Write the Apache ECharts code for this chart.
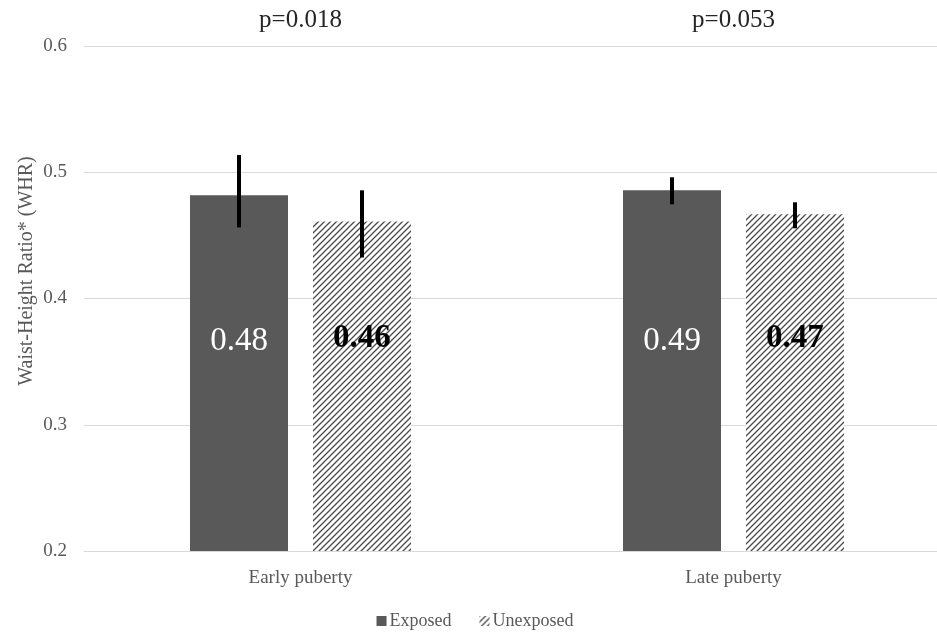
<!DOCTYPE html>
<html>
<head>
<meta charset="utf-8">
<script src="https://cdn.jsdelivr.net/npm/echarts@6/dist/echarts.min.js"></script>
<style>html,body{margin:0;padding:0;background:#fff;overflow:hidden;width:937px;height:633px}#c{width:950px;height:633px}</style>
</head>
<body>
<div id="c"></div>
<script>
const categories = ["Early puberty", "Late puberty"];
const pLabels = ["p=0.018", "p=0.053"];
const exposed = [0.4817, 0.4857];
const unexposed = [0.461, 0.4667];
const exposedLow = [0.4563, 0.4746];
const exposedHigh = [0.5137, 0.496];
const unexposedLow = [0.4325, 0.4556];
const unexposedHigh = [0.4857, 0.4762];
const yTicks = [0.2, 0.3, 0.4, 0.5, 0.6];

const FONT = '"Liberation Serif", "Times New Roman", serif';
const BAR_W = 98, GAP = 25;
const OFFSET = (BAR_W + GAP) / 2;

function makeHatch() {
  const c = document.createElement('canvas');
  c.width = 6; c.height = 6;
  const ctx = c.getContext('2d');
  ctx.fillStyle = '#ffffff';
  ctx.fillRect(0, 0, 6, 6);
  ctx.strokeStyle = '#4a4a4a';
  ctx.lineWidth = 1.3;
  ctx.beginPath();
  ctx.moveTo(-1, 7); ctx.lineTo(7, -1);
  ctx.moveTo(-4, 4); ctx.lineTo(4, -4);
  ctx.moveTo(2, 10); ctx.lineTo(10, 2);
  ctx.stroke();
  return c;
}
const hatch = { image: makeHatch(), repeat: 'repeat' };

function errData(lo, hi) {
  return categories.map((c, i) => [i, lo[i], hi[i]]);
}
function errRender(off) {
  return function (params, api) {
    const x = api.coord([api.value(0), api.value(1)])[0] + off;
    const y1 = api.coord([api.value(0), api.value(1)])[1];
    const y2 = api.coord([api.value(0), api.value(2)])[1];
    return {
      type: 'line',
      shape: { x1: x, y1: y1, x2: x, y2: y2 },
      style: { stroke: '#000', lineWidth: 4 }
    };
  };
}

const chart = echarts.init(document.getElementById('c'), null, { renderer: 'canvas', width: 950, height: 633 });
chart.setOption({
  animation: false,
  backgroundColor: '#fff',
  textStyle: { fontFamily: FONT },
  grid: { left: 84, top: 46, right: 0, bottom: 82, containLabel: false },
  legend: {
    data: ['Exposed', 'Unexposed'],
    bottom: -2,
    left: 'center',
    itemWidth: 10, itemHeight: 10, itemGap: 28,
    icon: 'rect',
    textStyle: { fontFamily: FONT, fontSize: 18, color: '#595959', padding: [0, 0, 0, -2] }
  },
  xAxis: [{
    type: 'category',
    data: categories,
    axisLine: { lineStyle: { color: '#d9d9d9', width: 1 } },
    axisTick: { show: false },
    axisLabel: { fontFamily: FONT, fontSize: 19, color: '#595959', margin: 18 }
  }, {
    type: 'category',
    data: pLabels,
    position: 'top',
    axisLine: { show: false },
    axisTick: { show: false },
    axisLabel: { fontFamily: FONT, fontSize: 25, color: '#262626', margin: 13 }
  }],
  yAxis: {
    type: 'value',
    min: yTicks[0], max: yTicks[yTicks.length - 1], interval: 0.1,
    name: 'Waist-Height Ratio* (WHR)',
    nameLocation: 'middle',
    nameGap: 47,
    nameMoveOverlap: false,
    nameTextStyle: { fontFamily: FONT, fontSize: 20, color: '#595959', padding: [0, 0, 0, 55] },
    axisLine: { show: false },
    axisTick: { show: false },
    splitLine: { lineStyle: { color: '#d9d9d9', width: 1 } },
    axisLabel: { fontFamily: FONT, fontSize: 19, color: '#595959', margin: 17,
      formatter: v => v.toFixed(1) }
  },
  series: [{
    name: 'Exposed',
    type: 'bar',
    data: exposed,
    barWidth: BAR_W,
    barGap: (GAP / BAR_W * 100).toFixed(1) + '%',
    itemStyle: { color: '#595959' },
    label: {
      show: true, position: 'insideBottom', distance: 193,
      formatter: p => p.value.toFixed(2),
      fontFamily: FONT, fontSize: 33, color: '#ffffff'
    }
  }, {
    name: 'Unexposed',
    type: 'bar',
    data: unexposed,
    barWidth: BAR_W,
    itemStyle: { color: hatch },
    label: {
      show: true, position: 'insideBottom', distance: 196,
      formatter: p => p.value.toFixed(2),
      fontFamily: FONT, fontSize: 33, fontWeight: 'bold', color: '#000000'
    }
  }, {
    name: 'errExposed',
    type: 'custom',
    renderItem: errRender(-OFFSET),
    data: errData(exposedLow, exposedHigh),
    encode: { x: 0, y: [1, 2] },
    z: 10
  }, {
    name: 'errUnexposed',
    type: 'custom',
    renderItem: errRender(OFFSET),
    data: errData(unexposedLow, unexposedHigh),
    encode: { x: 0, y: [1, 2] },
    z: 10
  }]
});
</script>
</body>
</html>
